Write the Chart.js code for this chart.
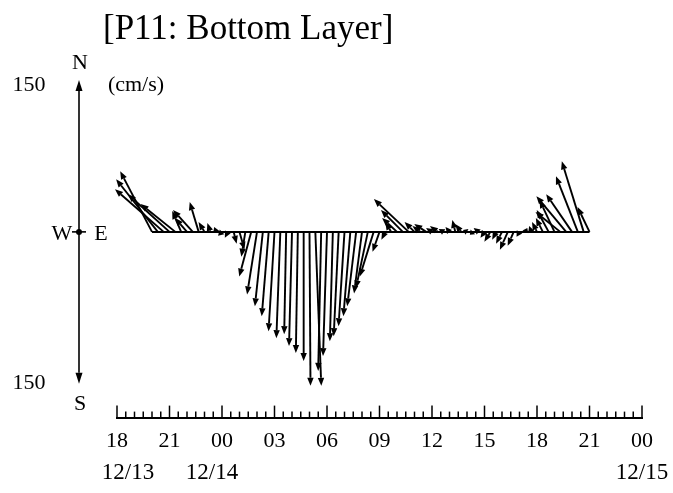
<!DOCTYPE html>
<html>
<head>
<meta charset="utf-8">
<script src="https://cdn.jsdelivr.net/npm/chart.js@4.4.0/dist/chart.umd.min.js"></script>
<style>
body { margin: 0; background: #fff; }
</style>
</head>
<body>
<canvas id="stick" width="673" height="493"></canvas>
<script>
// hours counted from 12/13 00:00, one vector every 20 minutes
const startHour = 20;
const stepHour = 1 / 3;

// current components in cm/s, east (u) and north (v)
const uValues = [-32, -42, -49, -42, -35, -9, -12, -20, -9, -6,
    -3, -2, -4, -3, 3, 5, -4, -12, -10, -8,
    -7, -6, -4, -2, -3, -2, 0, 1, 6, -3,
    -4, -3, -5, -6, -7, -9, -8, -12, -14, -7,
    -4, -6, -15, -22, -35, -10, -8, -12, -6, -8,
    -5, -4, -3, -6, -4, -3, -5, -4, -6, -4,
    -6, -8, -6, -3, 2, -2, -5, -7, -12, -15,
    -25, -30, -26, -22, -22, -12];
const vValues = [61, 53, 43, 38, 28, 21, 14, 22, 30, 10,
    9, 5, -4, -6, -12, -18, -25, -45, -63, -75,
    -85, -100, -107, -103, -115, -122, -130, -155, -155, -140,
    -125, -110, -105, -95, -85, -75, -62, -57, -45, -20,
    -8, 10, 14, 22, 33, 10, 6, 8, 4, 6,
    3, 5, 12, 8, 2, -3, 4, -6, -10, -8,
    -12, -18, -14, -5, 4, 6, 10, 14, 22, 32,
    20, 36, 38, 56, 71, 25];

const hourTicks = [18, 21, 24, 27, 30, 33, 36, 39, 42, 45, 48];
const dateLabels = ["12/13", "12/14", "12/15"];
const dateX = [128, 212, 642];

const serif = "'Liberation Serif', 'Times New Roman', serif";

const times = [];
for (let i = 0; i < uValues.length; i++) {
    times.push(startHour + i * stepHour);
}

function pad2(n) {
    return String(n % 24).padStart(2, "0");
}

function drawArrow(ctx, x1, y1, x2, y2, head, half) {
    const dx = x2 - x1;
    const dy = y2 - y1;
    const len = Math.hypot(dx, dy);
    if (len < 0.5) return;
    const h = Math.min(head, len);
    const ux = dx / len;
    const uy = dy / len;
    const bx = x2 - ux * h;
    const by = y2 - uy * h;
    ctx.beginPath();
    ctx.moveTo(x1, y1);
    ctx.lineTo(bx, by);
    ctx.stroke();
    ctx.beginPath();
    ctx.moveTo(x2, y2);
    ctx.lineTo(bx - uy * half, by + ux * half);
    ctx.lineTo(bx + uy * half, by - ux * half);
    ctx.closePath();
    ctx.fill();
}

// the vectors, drawn from each time on the zero line
const stickPlugin = {
    id: "sticks",
    afterDatasetsDraw(chart) {
        const ctx = chart.ctx;
        const x = chart.scales.x;
        const y = chart.scales.y;
        const y0 = y.getPixelForValue(0);
        const perCm = y0 - y.getPixelForValue(1);
        ctx.save();
        ctx.strokeStyle = "#000";
        ctx.fillStyle = "#000";
        ctx.lineWidth = 1.9;
        for (let i = 0; i < uValues.length; i++) {
            const x0 = x.getPixelForValue(times[i]);
            drawArrow(ctx, x0, y0, x0 + uValues[i] * perCm, y.getPixelForValue(vValues[i]), 8, 3.2);
        }
        ctx.restore();
    }
};

// title, compass, scale text, minor ticks, dates
const framePlugin = {
    id: "frame",
    afterDraw(chart) {
        const ctx = chart.ctx;
        const area = chart.chartArea;
        const x = chart.scales.x;
        const y = chart.scales.y;
        ctx.save();
        ctx.fillStyle = "#000";
        ctx.strokeStyle = "#000";

        ctx.font = "35px " + serif;
        ctx.textAlign = "left";
        ctx.textBaseline = "alphabetic";
        ctx.fillText("[P11: Bottom Layer]", 103, 39);

        const cx = area.left - 38;
        const cy = y.getPixelForValue(0);
        const top = y.getPixelForValue(153);
        const bottom = y.getPixelForValue(-153);
        ctx.lineWidth = 1.6;
        drawArrow(ctx, cx, cy, cx, top, 11, 3.5);
        drawArrow(ctx, cx, cy, cx, bottom, 11, 3.5);
        ctx.beginPath();
        ctx.moveTo(cx - 7, cy);
        ctx.lineTo(cx + 7, cy);
        ctx.stroke();
        ctx.beginPath();
        ctx.arc(cx, cy, 3, 0, Math.PI * 2);
        ctx.fill();

        ctx.font = "22px " + serif;
        ctx.textBaseline = "middle";
        ctx.textAlign = "center";
        ctx.fillText("N", cx + 1, top - 17);
        ctx.fillText("S", cx + 1, bottom + 20);
        ctx.fillText("W", cx - 17, cy + 2);
        ctx.fillText("E", cx + 22, cy + 2);
        ctx.fillText("150", 29, y.getPixelForValue(148));
        ctx.fillText("150", 29, y.getPixelForValue(-152));
        ctx.fillText("(cm/s)", 136, y.getPixelForValue(148));

        // tick marks stand up from the time axis, every half hour
        ctx.lineWidth = 1.5;
        for (let t = x.min; t <= x.max + 0.01; t += 0.5) {
            const px = x.getPixelForValue(t);
            const h = (t % 3 === 0) ? 12 : 6;
            ctx.beginPath();
            ctx.moveTo(px, area.bottom);
            ctx.lineTo(px, area.bottom - h);
            ctx.stroke();
        }

        ctx.font = "23px " + serif;
        for (let i = 0; i < dateLabels.length; i++) {
            ctx.fillText(dateLabels[i], dateX[i], 473);
        }
        ctx.restore();
    }
};

new Chart("stick", {
    type: "line",
    data: {
        datasets: [{
            data: times.map(t => ({x: t, y: 0})),
            borderColor: "#000",
            borderWidth: 2,
            pointRadius: 0,
            fill: false
        }]
    },
    options: {
        responsive: false,
        animation: false,
        devicePixelRatio: 1,
        layout: {padding: {left: 117, right: 31, top: 70, bottom: 29}},
        plugins: {
            legend: {display: false},
            title: {display: false},
            tooltip: {enabled: false}
        },
        scales: {
            x: {
                type: "linear",
                min: hourTicks[0],
                max: hourTicks[hourTicks.length - 1],
                afterBuildTicks: axis => {
                    axis.ticks = hourTicks.map(v => ({value: v}));
                },
                ticks: {
                    callback: v => pad2(v),
                    color: "#000",
                    font: {family: serif, size: 22},
                    padding: 10,
                    maxRotation: 0,
                    autoSkip: false
                },
                grid: {display: false, drawTicks: false},
                border: {display: true, color: "#000", width: 2}
            },
            y: {
                display: false,
                min: -187,
                max: 163
            }
        }
    },
    plugins: [stickPlugin, framePlugin]
});
</script>
</body>
</html>
